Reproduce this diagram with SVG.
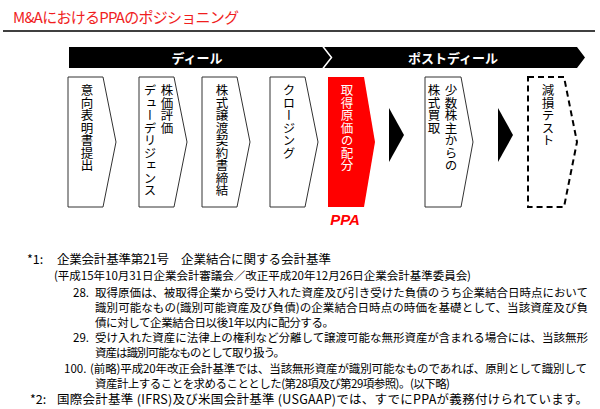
<svg xmlns="http://www.w3.org/2000/svg" width="600" height="409" viewBox="0 0 600 409">
<style>
text{font-family:"Noto Sans CJK JP","Liberation Sans",sans-serif;}
.hdr{fill:#fff;font-size:13px;font-weight:bold;text-anchor:middle;}
.box{fill:#fff;stroke:#333;stroke-width:1;}
.vt{font-size:12.5px;writing-mode:vertical-rl;fill:#000;}
.fn{font-size:11.5px;fill:#000;}
.fn2{font-size:12.5px;fill:#000;}
</style>
<rect width="600" height="409" fill="#fff"/>
<text x="13" y="23" font-size="15" fill="#f01e1e" textLength="226">M&amp;AにおけるPPAのポジショニング</text>
<line x1="3" y1="31" x2="595" y2="31" stroke="#000" stroke-width="1.5"/>
<g id="phase-deal">
<polygon points="69,47 323,47 332,57.5 323,68 69,68" fill="#000"/>
<text class="hdr" x="197" y="63">ディール</text>
</g>
<g id="phase-postdeal">
<polygon points="323,47 577,47 585,57.5 577,68 323,68 332,57.5" fill="#000"/>
<polyline points="322.5,46 331.5,57.5 322.5,69" fill="none" stroke="#fff" stroke-width="1.5"/>
<text class="hdr" x="453" y="63">ポストディール</text>
</g>
<g id="step1">
<polygon class="box" points="68,77 103,77 116,142 103,207 68,207"/>
<text class="vt" x="87" y="84">意向表明書提出</text>
</g>
<g id="step2">
<polygon class="box" points="139,77 174,77 187,142 174,207 139,207"/>
<text class="vt" x="167" y="84">株価評価</text>
<text class="vt" x="150" y="84">デューデリジェンス</text>
</g>
<g id="step3">
<polygon class="box" points="202,77 237,77 250,142 237,207 202,207"/>
<text class="vt" x="222" y="84">株式譲渡契約書締結</text>
</g>
<g id="step4">
<polygon class="box" points="270,77 305,77 318,142 305,207 270,207"/>
<text class="vt" x="289" y="84">クロージング</text>
</g>
<g id="step5-ppa">
<polygon points="328,77 364,77 375,142 364,207 328,207" fill="#ff0000"/>
<text class="vt" x="347" y="84" style="fill:#fff">取得原価の配分</text>
<text x="345" y="225" font-size="15" font-weight="bold" font-style="italic" fill="#ff0000" text-anchor="middle" style="font-family:'Liberation Sans',Arial,sans-serif">PPA</text>
</g>
<g id="connectors">
<polygon points="389,108 404,135 389,162" fill="#000"/>
<polygon points="498,108 513,135 498,162" fill="#000"/>
</g>
<g id="step6">
<polygon class="box" points="425,77 461,77 473,142 461,207 425,207"/>
<text class="vt" x="451" y="84">少数株主からの</text>
<text class="vt" x="434" y="84">株式買取</text>
</g>
<g id="step7">
<polygon points="528,77 564,77 577,142 564,207 528,207" fill="#fff" stroke="#000" stroke-width="2" stroke-dasharray="6,4"/>
<text class="vt" x="548" y="84">減損テスト</text>
</g>
<g id="notes">
<text class="fn2" x="27" y="264">*1:</text>
<text class="fn2" x="57" y="264" textLength="112">企業会計基準第21号</text>
<text class="fn2" x="181" y="264" textLength="150">企業結合に関する会計基準</text>
<text class="fn" x="54" y="280" textLength="417">(平成15年10月31日企業会計審議会／改正平成20年12月26日企業会計基準委員会)</text>
<text class="fn" x="73" y="297">28.</text>
<text class="fn" x="95" y="297" textLength="493">取得原価は、被取得企業から受け入れた資産及び引き受けた負債のうち企業結合日時点において</text>
<text class="fn" x="95" y="312" textLength="493">識別可能なもの(識別可能資産及び負債)の企業結合日時点の時価を基礎として、当該資産及び負</text>
<text class="fn" x="95" y="327" textLength="239">債に対して企業結合日以後1年以内に配分する。</text>
<text class="fn" x="73" y="342">29.</text>
<text class="fn" x="95" y="342" textLength="493">受け入れた資産に法律上の権利など分離して譲渡可能な無形資産が含まれる場合には、当該無形</text>
<text class="fn" x="95" y="357" textLength="190">資産は識別可能なものとして取り扱う。</text>
<text class="fn" x="64" y="373">100.</text>
<text class="fn" x="90" y="373" textLength="497">(前略)平成20年改正会計基準では、当該無形資産が識別可能なものであれば、原則として識別して</text>
<text class="fn" x="95" y="388" textLength="355">資産計上することを求めることとした(第28項及び第29項参照)。(以下略)</text>
<text class="fn2" x="30" y="404">*2:</text>
<text class="fn2" x="57" y="404" textLength="531">国際会計基準 (IFRS)及び米国会計基準 (USGAAP)では、すでにPPAが義務付けられています。</text>
</g>
</svg>
